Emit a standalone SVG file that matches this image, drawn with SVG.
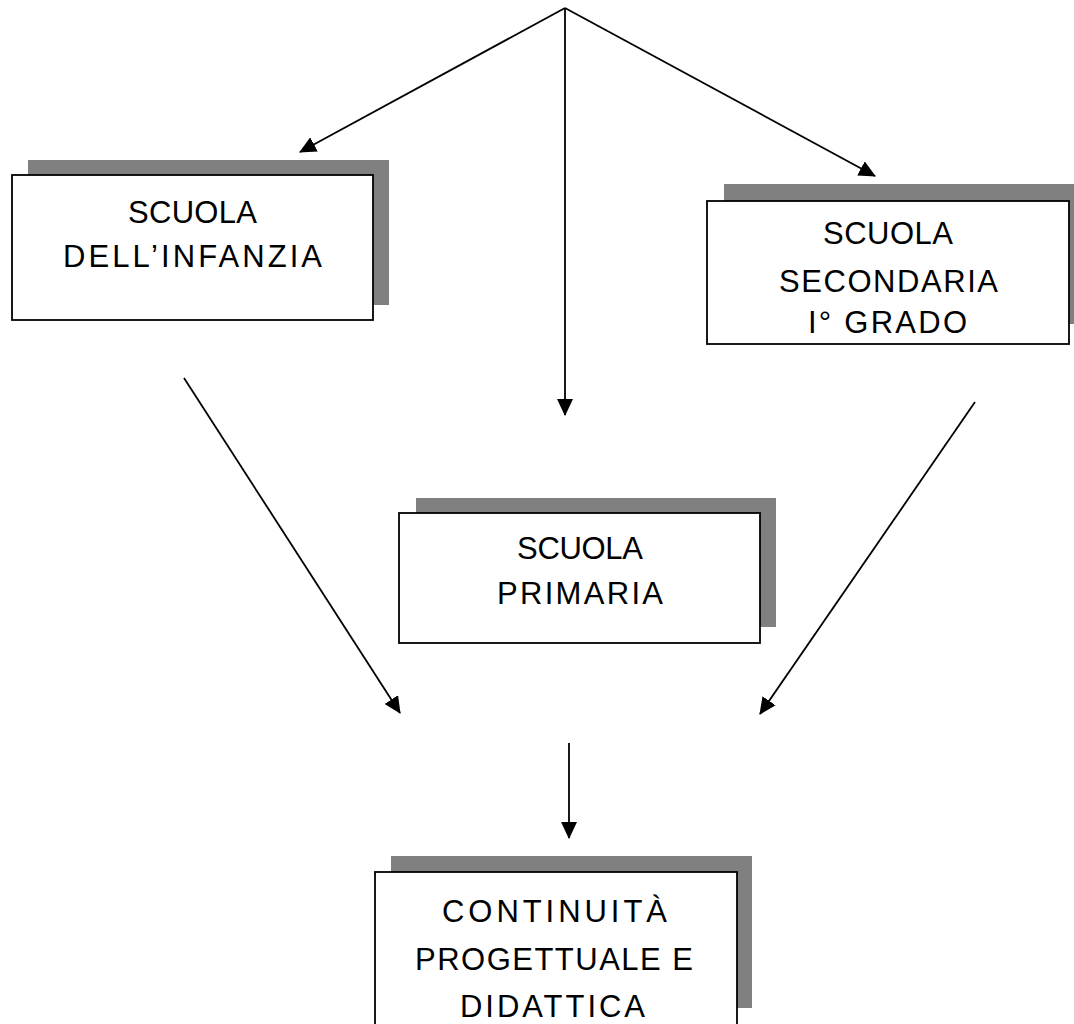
<svg xmlns="http://www.w3.org/2000/svg" width="1074" height="1024" viewBox="0 0 1074 1024">
<style>
.sh{fill:#808080;stroke:none}
.bx{fill:#fff;stroke:#000;stroke-width:1.8}
.t{font-family:"Liberation Sans",Arial,sans-serif;font-size:31px;fill:#000}
.c{stroke:#000;stroke-width:1.8;fill:none;marker-end:url(#ah)}
</style>
<defs>
<marker id="ah" markerUnits="userSpaceOnUse" markerWidth="17" markerHeight="16" refX="16" refY="8" orient="auto" viewBox="0 0 17 16">
<path d="M0,0 L17,8 L0,16 z" fill="#000"/>
</marker>
</defs>
<rect width="1074" height="1024" fill="#fff"/>
<g id="connectors">
<line class="c" x1="565" y1="8" x2="300" y2="152"/>
<line class="c" x1="565" y1="8" x2="565" y2="415"/>
<line class="c" x1="565" y1="8" x2="875" y2="176"/>
<line class="c" x1="184" y1="378" x2="400" y2="713"/>
<line class="c" x1="975" y1="402" x2="760" y2="714"/>
<line class="c" x1="569" y1="743" x2="569" y2="838"/>
</g>
<g id="infanzia">
<rect class="sh" x="28" y="160" width="361" height="145"/>
<rect class="bx" x="12" y="175" width="361" height="145"/>
<text class="t" x="128" y="223" textLength="129" lengthAdjust="spacing">SCUOLA</text>
<text class="t" x="63" y="267" textLength="259" lengthAdjust="spacing">DELL’INFANZIA</text>
</g>
<g id="secondaria">
<rect class="sh" x="724" y="184" width="362" height="140"/>
<rect class="bx" x="707" y="201" width="362" height="143"/>
<text class="t" x="823" y="244" textLength="130" lengthAdjust="spacing">SCUOLA</text>
<text class="t" x="779" y="292" textLength="219" lengthAdjust="spacing">SECONDARIA</text>
<text class="t" x="808" y="333" textLength="159" lengthAdjust="spacing">I° GRADO</text>
</g>
<g id="primaria">
<rect class="sh" x="416" y="498" width="360" height="129"/>
<rect class="bx" x="399" y="513" width="361" height="130"/>
<text class="t" x="517" y="559" textLength="126" lengthAdjust="spacing">SCUOLA</text>
<text class="t" x="497" y="604" textLength="166" lengthAdjust="spacing">PRIMARIA</text>
</g>
<g id="continuita">
<rect class="sh" x="391" y="856" width="361" height="152"/>
<rect class="bx" x="375" y="872" width="362" height="160"/>
<text class="t" x="442" y="922" textLength="225" lengthAdjust="spacing">CONTINUITÀ</text>
<text class="t" x="415" y="970" textLength="278" lengthAdjust="spacing">PROGETTUALE  E</text>
<text class="t" x="460" y="1017" textLength="185" lengthAdjust="spacing">DIDATTICA</text>
</g>
</svg>
